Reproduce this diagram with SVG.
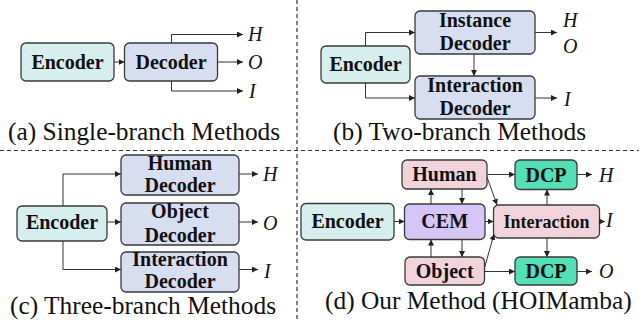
<svg xmlns="http://www.w3.org/2000/svg" width="639" height="320" viewBox="0 0 639 320">
  <defs>
    <marker id="arrow" viewBox="0 0 6 6" refX="6" refY="3" markerWidth="6" markerHeight="6" markerUnits="userSpaceOnUse" orient="auto">
      <path d="M0,0 L6,3 L0,6 z" fill="#222"/>
    </marker>
  </defs>
  <style>
    .box { stroke: #3a3a3a; stroke-width: 1.3; }
    .enc { fill: #d6eeee; }
    .dec { fill: #d8def2; }
    .pink { fill: #f2d3dc; }
    .cem { fill: #d6c6f6; }
    .dcp { fill: #55dfb6; }
    text { font-family: 'Liberation Serif', 'DejaVu Serif', serif; fill: #111; }
    .lbl { font-weight: bold; font-size: 20px; text-anchor: middle; }
    .out { font-style: italic; font-size: 20px; }
    .cap { font-size: 25.4px; }
    .wire { fill: none; stroke: #333; stroke-width: 1; marker-end: url(#arrow); }
    .sep { fill: none; stroke: #333; stroke-width: 1.2; stroke-dasharray: 4 3; }
  </style>

  <!-- panel separators -->
  <g id="separators">
    <line class="sep" x1="0" y1="150.5" x2="639" y2="150.5"/>
    <line class="sep" x1="297" y1="0" x2="297" y2="320"/>
  </g>

  <!-- (a) single branch -->
  <g id="a-encoder">
    <rect class="box enc" x="21" y="43" width="93" height="38" rx="5"/>
    <text class="lbl" x="67.5" y="69">Encoder</text>
  </g>
  <g id="a-decoder">
    <rect class="box dec" x="124.5" y="43" width="93" height="38" rx="5"/>
    <text class="lbl" x="171" y="69">Decoder</text>
  </g>
  <g id="a-outputs">
    <text class="out" x="248" y="41">H</text>
    <text class="out" x="248" y="69">O</text>
    <text class="out" x="249" y="98">I</text>
  </g>
  <text class="cap" x="8" y="140">(a) Single-branch Methods</text>

  <!-- (b) two branch -->
  <g id="b-encoder">
    <rect class="box enc" x="321" y="46" width="89" height="37" rx="5"/>
    <text class="lbl" x="365.5" y="71">Encoder</text>
  </g>
  <g id="b-instance">
    <rect class="box dec" x="415" y="11" width="120" height="43" rx="5"/>
    <text class="lbl" x="475" y="27">Instance</text>
    <text class="lbl" x="475" y="50">Decoder</text>
  </g>
  <g id="b-interaction">
    <rect class="box dec" x="415" y="76" width="120" height="43" rx="5"/>
    <text class="lbl" x="475" y="92">Interaction</text>
    <text class="lbl" x="475" y="115">Decoder</text>
  </g>
  <g id="b-outputs">
    <text class="out" x="563" y="27">H</text>
    <text class="out" x="563" y="53">O</text>
    <text class="out" x="564" y="106">I</text>
  </g>
  <text class="cap" x="333" y="140">(b) Two-branch Methods</text>

  <!-- (c) three branch -->
  <g id="c-encoder">
    <rect class="box enc" x="17" y="206" width="90" height="35" rx="5"/>
    <text class="lbl" x="62" y="229">Encoder</text>
  </g>
  <g id="c-human">
    <rect class="box dec" x="121" y="155" width="118" height="40" rx="5"/>
    <text class="lbl" x="180" y="170">Human</text>
    <text class="lbl" x="180" y="192">Decoder</text>
  </g>
  <g id="c-object">
    <rect class="box dec" x="121" y="203" width="118" height="42" rx="5"/>
    <text class="lbl" x="180" y="218">Object</text>
    <text class="lbl" x="180" y="242">Decoder</text>
  </g>
  <g id="c-interaction">
    <rect class="box dec" x="121" y="252" width="118" height="40" rx="5"/>
    <text class="lbl" x="180" y="266">Interaction</text>
    <text class="lbl" x="180" y="288">Decoder</text>
  </g>
  <g id="c-outputs">
    <text class="out" x="263" y="181">H</text>
    <text class="out" x="263" y="230">O</text>
    <text class="out" x="264" y="278">I</text>
  </g>
  <text class="cap" x="10" y="314">(c) Three-branch Methods</text>

  <!-- (d) HOIMamba -->
  <g id="d-encoder">
    <rect class="box enc" x="301" y="203.5" width="93" height="36.5" rx="5"/>
    <text class="lbl" x="347.5" y="228">Encoder</text>
  </g>
  <g id="d-cem">
    <rect class="box cem" x="404.5" y="204" width="80.5" height="35.5" rx="5"/>
    <text class="lbl" x="444.7" y="228">CEM</text>
  </g>
  <g id="d-human">
    <rect class="box pink" x="402" y="160" width="85" height="29" rx="5"/>
    <text class="lbl" x="444.5" y="181">Human</text>
  </g>
  <g id="d-object">
    <rect class="box pink" x="405" y="257" width="79.5" height="28" rx="5"/>
    <text class="lbl" x="444.7" y="278">Object</text>
  </g>
  <g id="d-interaction">
    <rect class="box pink" x="493.5" y="205" width="106" height="33" rx="5"/>
    <text class="lbl" x="546.5" y="228" style="font-size:18px">Interaction</text>
  </g>
  <g id="d-dcp-top">
    <rect class="box dcp" x="515" y="160" width="62" height="29.5" rx="5"/>
    <text class="lbl" x="546" y="182">DCP</text>
  </g>
  <g id="d-dcp-bottom">
    <rect class="box dcp" x="515" y="257" width="62" height="28" rx="5"/>
    <text class="lbl" x="546" y="278">DCP</text>
  </g>
  <g id="d-outputs">
    <text class="out" x="599" y="181.5">H</text>
    <text class="out" x="606" y="227">I</text>
    <text class="out" x="599" y="278">O</text>
  </g>
  <text class="cap" x="325" y="309">(d) Our Method (HOIMamba)</text>

  <!-- connectors -->
  <g id="connectors">
    <!-- (a) -->
    <path class="wire" d="M114,62 H124.5"/>
    <path class="wire" d="M171.5,43 V34.5 H243"/>
    <path class="wire" d="M217.5,62 H243"/>
    <path class="wire" d="M171.5,81 V91 H243"/>
    <!-- (b) -->
    <path class="wire" d="M365.5,46 V32.5 H415"/>
    <path class="wire" d="M365.5,83 V98 H415"/>
    <path class="wire" d="M474,54 V76"/>
    <path class="wire" d="M535,32.5 H557"/>
    <path class="wire" d="M535,98 H557"/>
    <!-- (c) -->
    <path class="wire" d="M63,206 V174 H121"/>
    <path class="wire" d="M107,222 H121"/>
    <path class="wire" d="M63,241 V269.5 H121"/>
    <path class="wire" d="M239,174 H258"/>
    <path class="wire" d="M239,222 H258"/>
    <path class="wire" d="M239,269.5 H258"/>
    <!-- (d) -->
    <path class="wire" d="M394,221.5 H404.5"/>
    <path class="wire" d="M431,204 V189"/>
    <path class="wire" d="M462,189 V204"/>
    <path class="wire" d="M431,257 V239.5"/>
    <path class="wire" d="M462,239.5 V257"/>
    <path class="wire" d="M485,221.5 H493.5"/>
    <path class="wire" d="M487,174.5 H515"/>
    <path class="wire" d="M484.5,271.5 H515"/>
    <path class="wire" d="M487,177 L497,205"/>
    <path class="wire" d="M484.5,268 L494,234"/>
    <path class="wire" d="M547,205 V189.5"/>
    <path class="wire" d="M547,238 V257"/>
    <path class="wire" d="M577,174.5 H592"/>
    <path class="wire" d="M599.5,221.5 H605"/>
    <path class="wire" d="M577,271.5 H592"/>
  </g>
</svg>
